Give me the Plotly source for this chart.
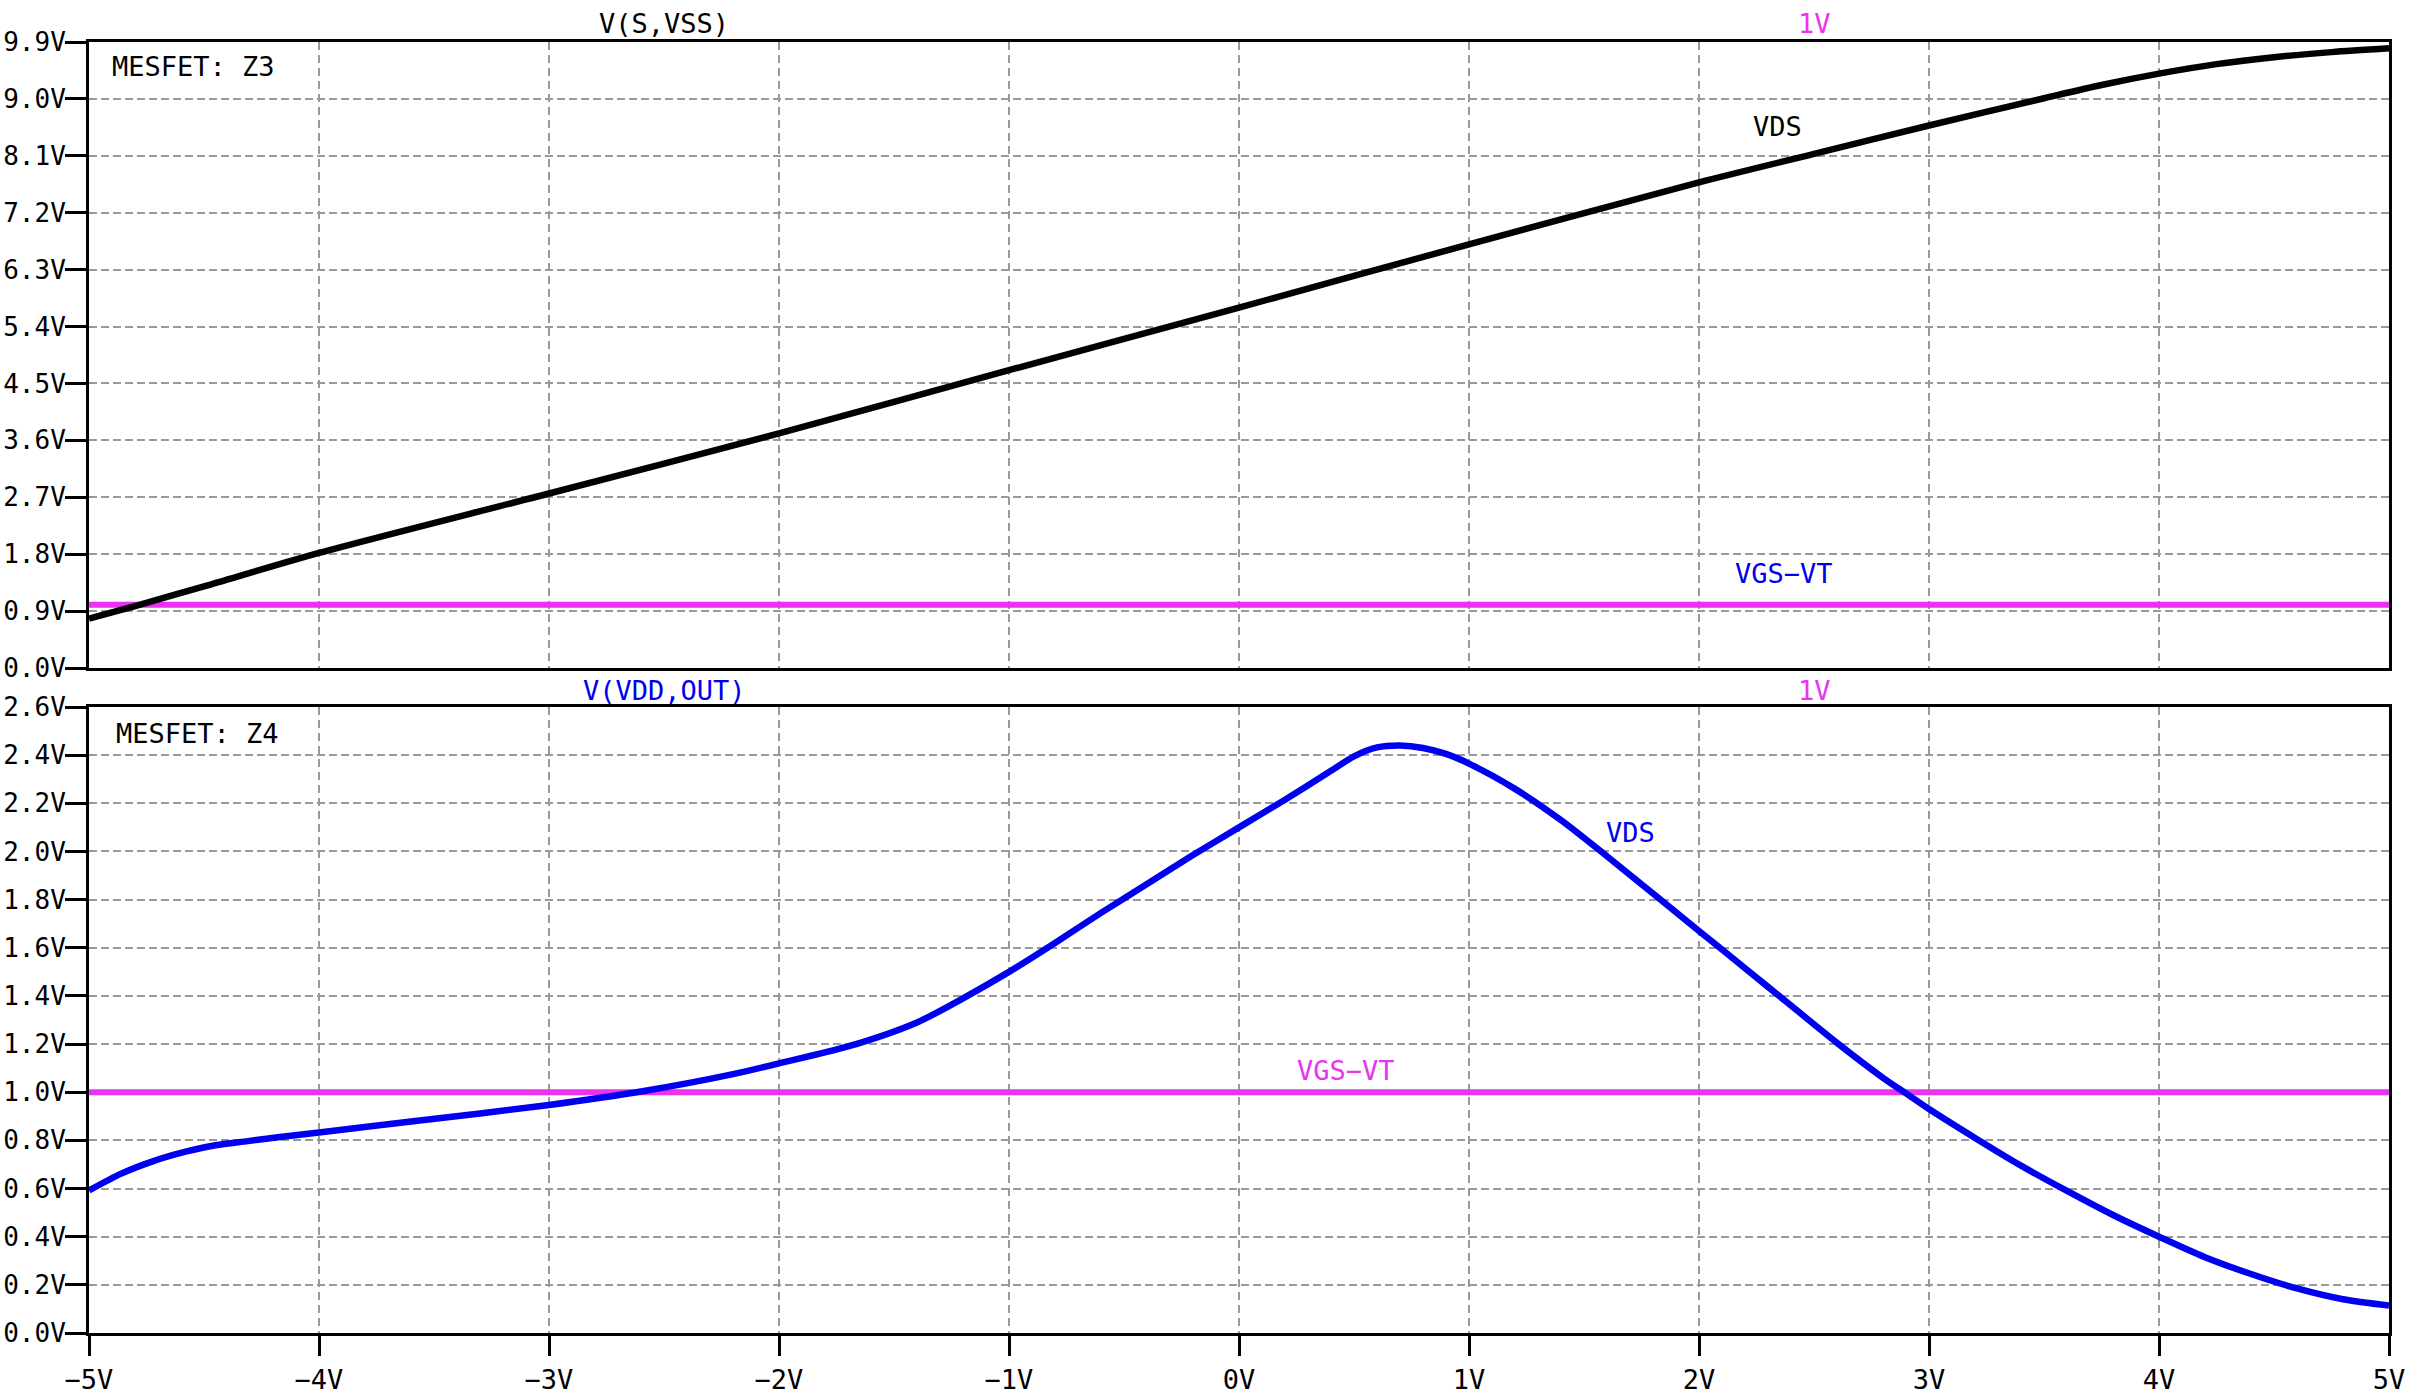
import plotly.graph_objects as go

# ---- data ----
x_top = [-5.0, -4.8, -4.5, -4.0, -3.0, -2.0, -1.0, 0.0, 1.0, 2.0, 2.5, 3.0, 3.5, 3.75, 4.0, 4.25, 4.5, 4.75, 5.0]
vds_top = [0.78, 0.98, 1.29, 1.82, 2.76, 3.71, 4.71, 5.70, 6.70, 7.68, 8.13, 8.58, 9.01, 9.22, 9.40, 9.55, 9.66, 9.74, 9.80]

x_bot = [-5.0, -4.86, -4.72, -4.58, -4.45, -4.31, -4.17, -4.0, -3.6, -3.0, -2.6, -2.2, -2.0, -1.7, -1.4, -1.2,
         -1.0, -0.8, -0.6, -0.4, -0.2, 0.0, 0.2, 0.4, 0.5, 0.6, 0.7, 0.8, 0.9, 1.0, 1.2, 1.4, 1.6,
         1.8, 2.0, 2.2, 2.4, 2.6, 2.8, 2.9, 3.0, 3.2, 3.4, 3.6, 3.8, 4.0, 4.2, 4.4, 4.6, 4.8, 5.0]
vds_bot = [0.592, 0.662, 0.714, 0.753, 0.78, 0.797, 0.814, 0.833, 0.878, 0.947, 1.003, 1.075, 1.12, 1.19, 1.29, 1.39,
           1.50, 1.62, 1.745, 1.865, 1.985, 2.10, 2.215, 2.335, 2.395, 2.432, 2.44, 2.43, 2.405, 2.365, 2.26, 2.13, 1.98,
           1.825, 1.67, 1.515, 1.36, 1.205, 1.06, 0.995, 0.93, 0.81, 0.695, 0.59, 0.49, 0.40, 0.315, 0.245, 0.185, 0.14, 0.114]

vgs_vt = 1.0

x_ticks = [-5, -4, -3, -2, -1, 0, 1, 2, 3, 4, 5]
x_ticklabels = ["\u22125V", "\u22124V", "\u22123V", "\u22122V", "\u22121V", "0V", "1V", "2V", "3V", "4V", "5V"]
y_top_ticks = [0.0, 0.9, 1.8, 2.7, 3.6, 4.5, 5.4, 6.3, 7.2, 8.1, 9.0, 9.9]
y_top_labels = ["0.0V", "0.9V", "1.8V", "2.7V", "3.6V", "4.5V", "5.4V", "6.3V", "7.2V", "8.1V", "9.0V", "9.9V"]
y_bot_ticks = [0.0, 0.2, 0.4, 0.6, 0.8, 1.0, 1.2, 1.4, 1.6, 1.8, 2.0, 2.2, 2.4, 2.6]
y_bot_labels = ["0.0V", "0.2V", "0.4V", "0.6V", "0.8V", "1.0V", "1.2V", "1.4V", "1.6V", "1.8V", "2.0V", "2.2V", "2.4V", "2.6V"]

# ---- styles ----
FONT = "DejaVu Sans Mono"
BLACK = "#000000"
BLUE = "#0000f0"
MAGENTA = "#e833f0"
GRID = "#999999"

W, H = 2410, 1394
ML, MR, MT, MB = 89, 21, 42, 61
plot_h = H - MT - MB
top_dom = [(H - MB - 668) / plot_h, 1.0]
bot_dom = [0.0, (H - MB - 707) / plot_h]

fig = go.Figure()
fig.add_trace(go.Scatter(x=[x_top[0], x_top[-1]], y=[vgs_vt, vgs_vt], mode="lines",
                         line=dict(color=MAGENTA, width=6), xaxis="x", yaxis="y", showlegend=False))
fig.add_trace(go.Scatter(x=x_top, y=vds_top, mode="lines",
                         line=dict(color=BLACK, width=6.5, shape="spline", smoothing=0.8),
                         xaxis="x", yaxis="y", showlegend=False))
fig.add_trace(go.Scatter(x=[x_bot[0], x_bot[-1]], y=[vgs_vt, vgs_vt], mode="lines",
                         line=dict(color=MAGENTA, width=6), xaxis="x2", yaxis="y2", showlegend=False))
fig.add_trace(go.Scatter(x=x_bot, y=vds_bot, mode="lines",
                         line=dict(color=BLUE, width=6.5, shape="spline", smoothing=0.8),
                         xaxis="x2", yaxis="y2", showlegend=False))

common_x = dict(range=[-5, 5], tickvals=x_ticks, showgrid=True, gridcolor=GRID, gridwidth=2,
                griddash="8px,5px", zeroline=False, showline=True, linecolor=BLACK, linewidth=3,
                mirror=True, fixedrange=True, automargin=False)
common_y = dict(showgrid=True, gridcolor=GRID, gridwidth=2, griddash="8px,4px", zeroline=False,
                showline=True, linecolor=BLACK, linewidth=3, mirror=True, ticks="outside",
                ticklen=21, tickwidth=3, tickcolor=BLACK, ticklabelstandoff=-6, automargin=False,
                fixedrange=True, tickfont=dict(family=FONT, size=26, color=BLACK))

fig.update_layout(
    width=W, height=H,
    margin=dict(l=ML, r=MR, t=MT, b=MB),
    paper_bgcolor="white", plot_bgcolor="white",
    xaxis=dict(**common_x, domain=[0, 1], anchor="y", showticklabels=False, ticks=""),
    yaxis=dict(**common_y, domain=top_dom, anchor="x", range=[0, 9.9],
               tickvals=y_top_ticks, ticktext=y_top_labels),
    xaxis2=dict(**common_x, domain=[0, 1], anchor="y2", ticks="outside", ticklen=20, tickwidth=3,
                tickcolor=BLACK, ticktext=x_ticklabels, ticklabelstandoff=1,
                tickfont=dict(family=FONT, size=27, color=BLACK)),
    yaxis2=dict(**common_y, domain=bot_dom, anchor="x2", range=[0, 2.6],
                tickvals=y_bot_ticks, ticktext=y_bot_labels),
)

def ann(text, x, y, xref, yref, color, xanchor="center", yanchor="middle", size=27):
    fig.add_annotation(text=text, x=x, y=y, xref=xref, yref=yref, showarrow=False,
                       xanchor=xanchor, yanchor=yanchor,
                       font=dict(family=FONT, size=size, color=color))

def py(pix):
    return (H - MB - pix) / plot_h

def px(pix):
    return (pix - ML) / (W - ML - MR)

# trace titles above panels
ann("V(S,VSS)", -2.5, py(23), "x", "paper", BLACK)
ann("1V", 2.5, py(23), "x", "paper", MAGENTA)
ann("V(VDD,OUT)", -2.5, py(690), "x2", "paper", BLUE)
ann("1V", 2.5, py(690), "x2", "paper", MAGENTA)

# panel labels
ann("MESFET: Z3", px(110), py(66), "paper", "paper", BLACK, xanchor="left")
ann("MESFET: Z4", px(114), py(733), "paper", "paper", BLACK, xanchor="left")

# curve labels
ann("VDS", 2.34, 8.57, "x", "y", BLACK)
ann("VGS\u2212VT", 2.37, 1.50, "x", "y", BLUE)
ann("VDS", 1.70, 2.08, "x2", "y2", BLUE)
ann("VGS\u2212VT", 0.465, 1.09, "x2", "y2", MAGENTA)

fig.write_html("out.html", config={"displayModeBar": False},
               post_script="document.body.style.margin='0px';document.body.style.overflow='hidden';")
